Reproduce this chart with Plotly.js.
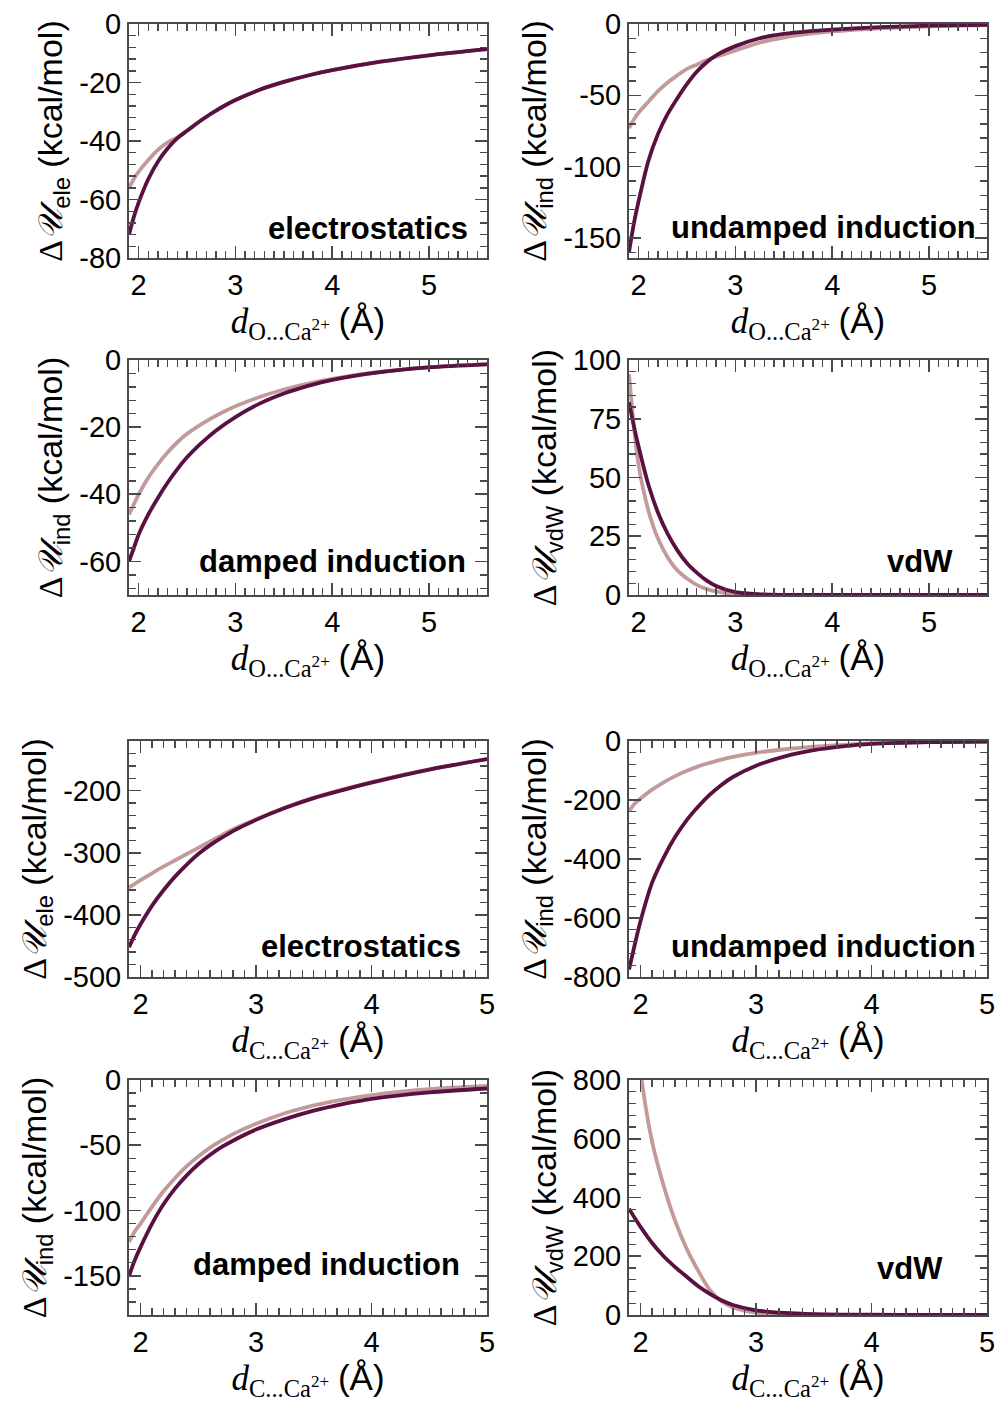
<!DOCTYPE html>
<html><head><meta charset="utf-8">
<script src="https://cdn.plot.ly/plotly-3.0.1.min.js"></script>
<style>html,body{margin:0;padding:0;background:#fff}</style>
</head><body><div id="chart" style="width:1001px;height:1405px"></div>
<script>
// ---- data ----
const xO = [1.9,1.95,2.0,2.1,2.2,2.3,2.4,2.5,2.6,2.7,2.8,3.0,3.25,3.5,3.75,4.0,4.5,5.0,5.6];
const xC = [1.9,1.95,2.0,2.1,2.2,2.3,2.4,2.5,2.6,2.7,2.8,3.0,3.25,3.5,3.75,4.0,4.5,5.0];

const eleO_dark  = [-72,-66,-61,-53,-47,-42.5,-39,-36.5,-34,-31.7,-29.6,-26,-22.5,-19.8,-17.6,-15.8,-12.9,-10.7,-8.6];
const eleO_light = [-56,-53,-50.5,-46.5,-43,-40.5,-38.8,-36.5,-34,-31.7,-29.6,-26,-22.5,-19.8,-17.6,-15.8,-12.9,-10.7,-8.6];

const indO_dark  = [-160,-140,-124,-96,-77,-63,-52,-42,-33.5,-27,-22,-15.5,-10,-7,-5.2,-4,-2.2,-1.2,-0.6];
const indO_light = [-73,-67,-62,-54.5,-47,-41,-36,-31.5,-28.5,-25.5,-23,-18.5,-13,-9.5,-7,-5.2,-3,-1.6,-0.8];

const dampO_dark  = [-60,-56,-52,-46,-41,-36.5,-32.5,-29,-26,-23.4,-21,-17,-13,-10,-7.7,-5.9,-3.6,-2.2,-1.3];
const dampO_light = [-46,-43,-40,-35,-31,-27.5,-24.5,-22,-20,-18.2,-16.6,-13.8,-11,-8.8,-7,-5.6,-3.5,-2.1,-1.2];

const vdwO_dark  = [82,72,63,47,35,26,19,13.5,9.5,6.2,3.8,1.2,0.3,0.05,0,0,0,0,0];
const vdwO_light = [94,72,55,36,24,16,10.5,7,4.3,2.6,1.5,0.4,0.1,0,0,0,0,0,0];

const eleC_dark  = [-452,-432,-415,-385,-360,-338,-319,-302,-288,-276,-265,-247,-228,-212,-199,-187,-166,-149];
const eleC_light = [-356,-350,-344,-333,-322,-312,-302,-292,-282,-272,-262,-246,-227,-211,-198,-186,-165.5,-149];

const indC_dark  = [-775,-690,-610,-480,-395,-325,-268,-222,-182,-149,-122,-84,-52,-31,-18,-10,-4,-2];
const indC_light = [-238,-212,-195,-165,-140,-119,-101,-86,-74,-63,-54,-40,-28,-19,-13,-8.5,-3.8,-1.8];

const dampC_dark  = [-150,-138,-128,-110,-95,-83,-73,-64.5,-57.5,-51.5,-46.5,-38,-30,-23.5,-18.5,-14.5,-9.5,-6.5];
const dampC_light = [-124,-116,-110,-97,-85,-75,-66,-58.5,-52,-46.5,-41.5,-33.5,-25.5,-19.5,-15,-11.5,-7,-4.5];

const vdwC_dark  = [362,330,300,245,200,163,130,98,72,50,34,16,7,3,1.5,1,0.3,0];
const vdwC_light = [1300,1050,830,590,440,320,225,150,85,47,26,8,2.5,0.8,0.3,0.1,0,0];

// tick labels
const xTicksO = [2,3,4,5];
const xTicksC = [2,3,4,5];
const yTicks = [
  [0,-20,-40,-60,-80],
  [0,-50,-100,-150],
  [0,-20,-40,-60],
  [0,25,50,75,100],
  [-200,-300,-400,-500],
  [0,-200,-400,-600,-800],
  [0,-50,-100,-150],
  [0,200,400,600,800]
];

const labels = ['electrostatics','undamped induction','damped induction','vdW',
                'electrostatics','undamped induction','damped induction','vdW'];
const subs = ['ele','ind','ind','vdW','ele','ind','ind','vdW'];
const pairO = 'O...Ca', pairC = 'C...Ca';

// ---- layout settings ----
const series = [
  [xO, eleO_light, eleO_dark], [xO, indO_light, indO_dark],
  [xO, dampO_light, dampO_dark], [xO, vdwO_light, vdwO_dark],
  [xC, eleC_light, eleC_dark], [xC, indC_light, indC_dark],
  [xC, dampC_light, dampC_dark], [xC, vdwC_light, vdwC_dark]
];
const W = 1001, H = 1405;
const colPx = [[129,487],[629,987]];
const rowPx = [[24,258],[360,595],[741,977],[1080,1315]];
const yRanges = [[-80,0],[-164,0],[-70,0],[0,100],[-500,-120],[-800,0],[-180,0],[0,800]];
const yMinor = [4,10,4,5,20,40,10,40];
const xRanges = [[1.9,5.6],[1.9,5.6],[1.9,5.6],[1.9,5.6],[1.9,5],[1.9,5],[1.9,5],[1.9,5]];
const labPos = [[0.953,0.128],[0.975,0.13],[0.947,0.142],[0.91,0.142],
                [0.933,0.128],[0.975,0.128],[0.93,0.214],[0.883,0.197]];

const DARK = '#5a1040', LIGHT = '#c39a9a', AX = '#4a4a4a';
const sansF = 'Liberation Sans, Arial, Helvetica, sans-serif';
const serifF = 'Liberation Serif, Times New Roman, serif';

const traces = [];
const layout = {
  width: W, height: H, margin: {l:0, r:0, t:0, b:0},
  paper_bgcolor: '#fff', plot_bgcolor: '#fff', showlegend: false,
  annotations: []
};

series.forEach((s, i) => {
  const n = i + 1;
  const xa = 'x' + n, ya = 'y' + n;
  [[s[1], LIGHT], [s[2], DARK]].forEach(([yv, col]) => {
    traces.push({x: s[0], y: yv, xaxis: xa, yaxis: ya, type: 'scatter', mode: 'lines',
      line: {color: col, width: 3.8, shape: 'spline', smoothing: 0.8}, hoverinfo: 'skip'});
  });
  const c = colPx[i % 2], r = rowPx[Math.floor(i / 2)];
  const pair = i < 4 ? pairO : pairC;
  const xt = i < 4 ? xTicksO : xTicksC;
  const common = {
    showgrid: false, zeroline: false, showline: true, linecolor: AX, linewidth: 2,
    mirror: 'ticks', ticks: 'inside', ticklen: 12, tickwidth: 1.6, tickcolor: AX,
    tickfont: {family: sansF, size: 29, color: '#000'}, automargin: false
  };
  layout['xaxis' + n] = Object.assign({}, common, {
    domain: [c[0] / W, c[1] / W], anchor: ya, range: xRanges[i],
    tickmode: 'array', tickvals: xt, ticktext: xt.map(String),
    minor: {ticks: 'inside', ticklen: 7, tickwidth: 1.4, tickcolor: AX, dtick: 0.1, tick0: 2, showgrid: false},
    title: {text: '<i>d</i><sub>' + pair + '<sup>2+</sup></sub> <span style="font-family:Liberation Sans">(Å)</span>',
            font: {family: serifF, size: 35, color: '#000'}, standoff: 4}
  });
  const yt = yTicks[i];
  layout['yaxis' + n] = Object.assign({}, common, {
    domain: [1 - r[1] / H, 1 - r[0] / H], anchor: xa, range: yRanges[i],
    tickmode: 'array', tickvals: yt, ticktext: yt.map(String),
    minor: {ticks: 'inside', ticklen: 7, tickwidth: 1.4, tickcolor: AX, dtick: yMinor[i], tick0: 0, showgrid: false},
    title: {text: '<span style="font-family:Liberation Serif">Δ<i>𝒰</i></span><sub>' + subs[i] + '</sub> (kcal/mol)',
            font: {family: sansF, size: 34, color: '#000'}, standoff: 6}
  });
  layout.annotations.push({
    xref: xa + ' domain', yref: ya + ' domain', x: labPos[i][0], y: labPos[i][1],
    xanchor: 'right', yanchor: 'middle', showarrow: false, text: '<b>' + labels[i] + '</b>',
    font: {family: sansF, size: 31, color: '#000'}
  });
});

Plotly.newPlot('chart', traces, layout, {staticPlot: true});
</script></body></html>
